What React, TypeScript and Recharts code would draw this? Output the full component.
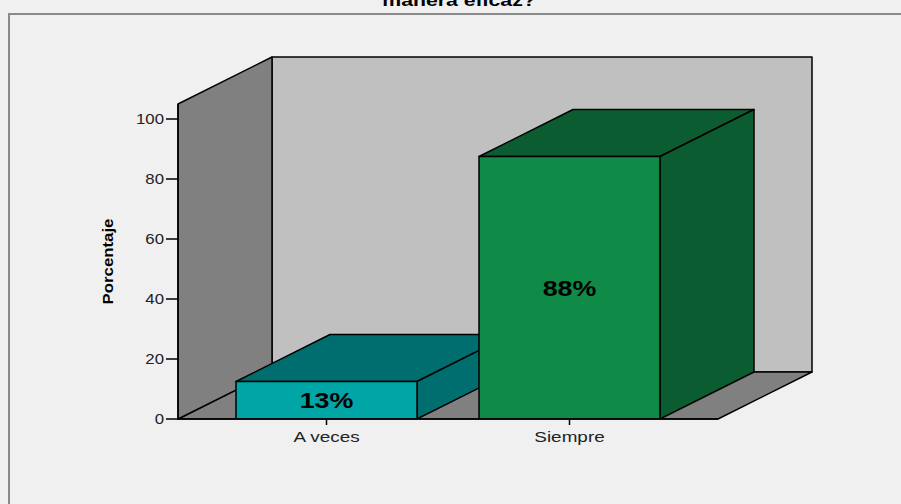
import React from 'react'
import { BarChart, Bar, XAxis, YAxis, ReferenceArea, LabelList } from 'recharts'

// survey answers (percent of respondents)
const categories = ['A veces', 'Siempre']
const percentages = [12.5, 87.5]
const yTicks = [0, 20, 40, 60, 80, 100]

const FRONT = ['#00A6A6', '#0F8A47']
const DARK = ['#006E6E', '#0B5C31']
const FONT = '"Liberation Sans", Arial, sans-serif'

// depth of the 3D box and x axis padding
const DX = 94
const DY = -47
const PAD = 27

const data = categories.map((name, i) => ({ name, value: percentages[i] }))

const Bar3D = (props: any) => {
  const { x, y, width: w, height: h, index } = props
  const front = FRONT[index % FRONT.length]
  const dark = DARK[index % DARK.length]
  return (
    <g stroke="#000" strokeWidth={1.5} strokeLinejoin="round">
      <polygon
        points={`${x},${y} ${x + DX},${y + DY} ${x + w + DX},${y + DY} ${x + w},${y}`}
        fill={dark}
      />
      <polygon
        points={`${x + w},${y} ${x + w + DX},${y + DY} ${x + w + DX},${y + h + DY} ${x + w},${y + h}`}
        fill={dark}
      />
      <rect x={x} y={y} width={w} height={h} fill={front} />
    </g>
  )
}

// reference area covers the padded band range, so widen it back to the full floor
const Walls = (props: any) => {
  const x = props.x - PAD
  const w = props.width + PAD * 2
  const { y, height: h } = props
  return (
    <g stroke="#000" strokeWidth={1.5} strokeLinejoin="round">
      <rect x={x + DX} y={y + DY} width={w} height={h} fill="#C0C0C0" />
      <polygon
        points={`${x},${y + h} ${x + DX},${y + h + DY} ${x + w + DX},${y + h + DY} ${x + w},${y + h}`}
        fill="#808080"
      />
      <polygon
        points={`${x},${y} ${x + DX},${y + DY} ${x + DX},${y + h + DY} ${x},${y + h}`}
        fill="#808080"
      />
    </g>
  )
}

const XTick = ({ x, y, payload }: any) => (
  <text
    transform={`translate(${x},${y}) scale(1.35,1)`}
    textAnchor="middle"
    dy="0.71em"
    fontFamily={FONT}
    fontSize={14}
    fill="#222"
  >
    {payload.value}
  </text>
)

const YTick = ({ x, y, payload }: any) => (
  <text
    transform={`translate(${x},${y}) scale(1.2,1)`}
    textAnchor="end"
    dy="0.355em"
    fontFamily={FONT}
    fontSize={14}
    fill="#222"
  >
    {payload.value}
  </text>
)

const YLabel = ({ viewBox }: any) => {
  const cx = viewBox.x + 18
  const cy = viewBox.y + viewBox.height / 2
  return (
    <text
      transform={`translate(${cx},${cy}) rotate(-90) scale(1.2,1)`}
      textAnchor="middle"
      dy="0.355em"
      fontFamily={FONT}
      fontWeight="bold"
      fontSize={14}
      fill="#000"
    >
      Porcentaje
    </text>
  )
}

const ValueLabel = ({ x, y, width, height, value }: any) => (
  <text
    transform={`translate(${x + width / 2},${y + height / 2}) scale(1.22,1)`}
    textAnchor="middle"
    dy="0.355em"
    fontFamily={FONT}
    fontWeight="bold"
    fontSize={22}
    fill="#000"
  >
    {`${Math.round(Number(value))}%`}
  </text>
)

export default function App() {
  return (
    <div style={{ position: 'absolute', left: 0, top: 0, width: 901, height: 504, background: '#F0F0F0', overflow: 'hidden' }}>
      <div
        style={{
          position: 'absolute', left: 8, top: 13, width: 1000, height: 600,
          borderLeft: '2px solid #8a8a8a', borderTop: '2px solid #8a8a8a',
        }}
      />
      <svg style={{ position: 'absolute', left: 0, top: 0 }} width={901} height={14}>
        <text
          transform="translate(459,6) scale(1.25,1)"
          textAnchor="middle"
          fontFamily={FONT}
          fontWeight="bold"
          fontSize={17}
          fill="#000"
        >
          manera eficaz?
        </text>
      </svg>
      <div style={{ position: 'absolute', left: 0, top: 0 }}>
        <BarChart
          width={901}
          height={504}
          data={data}
          margin={{ top: 104, right: 183, bottom: 55, left: 90 }}
        >
          <ReferenceArea y1={0} y2={105} shape={<Walls />} ifOverflow="visible" />
          <XAxis
            dataKey="name"
            padding={{ left: PAD, right: PAD }}
            axisLine={{ stroke: '#000', strokeWidth: 1.5 }}
            tickLine={{ stroke: '#000', strokeWidth: 1.5 }}
            tickSize={6}
            tickMargin={7}
            tick={<XTick />}
          />
          <YAxis
            width={88}
            domain={[0, 105]}
            ticks={yTicks}
            allowDataOverflow
            axisLine={{ stroke: '#000', strokeWidth: 1.5 }}
            tickLine={{ stroke: '#000', strokeWidth: 1.5 }}
            tickSize={12}
            tickMargin={2}
            tick={<YTick />}
            label={<YLabel />}
          />
          <Bar dataKey="value" barSize={181} shape={<Bar3D />} isAnimationActive={false}>
            <LabelList dataKey="value" content={<ValueLabel />} />
          </Bar>
        </BarChart>
      </div>
    </div>
  )
}
